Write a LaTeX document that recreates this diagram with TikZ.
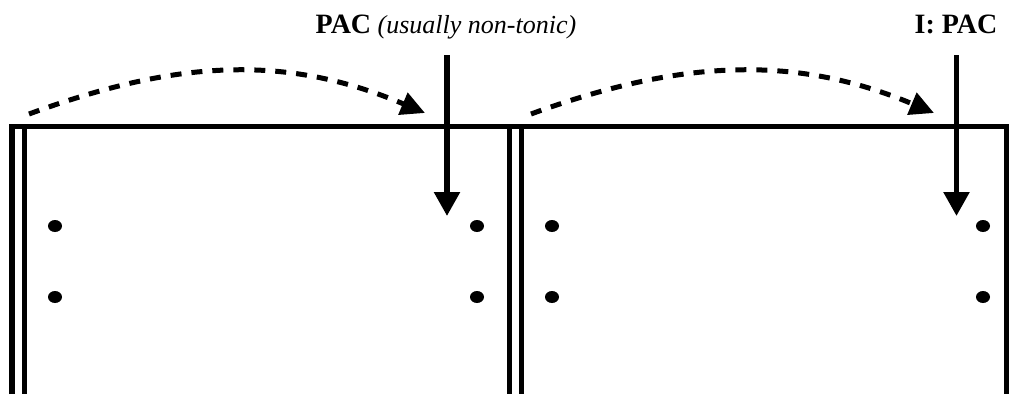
\documentclass[tikz,border=0pt]{standalone}
\usepackage{fontspec}
\setmainfont{Liberation Serif}
\usetikzlibrary{arrows.meta,shapes.geometric}
\tikzset{
  bar/.style={line width=5.3pt, line join=miter},
  downarrow/.style={line width=5.5pt, -{Triangle[width=25pt,length=24pt]}},
  dasharrow/.style={line width=5pt, dash pattern=on 11pt off 10pt, -{Triangle[width=23pt,length=24pt]}},
  spot/.style={ellipse, fill=black, minimum width=14pt, minimum height=12pt, inner sep=0pt},
  lbl/.style={inner sep=0pt, anchor=base}
}
\begin{document}
\begin{tikzpicture}[x=1pt,y=-1pt]
\useasboundingbox (0,0) rectangle (1010,394);
% frame
\draw[bar] (12,394) -- (12,126.5) -- (1006.5,126.5) -- (1006.5,394);
\draw[bar] (24.7,126.5) -- (24.7,394);
\draw[bar] (509.5,126.5) -- (509.5,394);
\draw[bar] (521.7,126.5) -- (521.7,394);
% dots
\node[spot] (d1) at (55,226) {};
\node[spot] (d2) at (55,297) {};
\node[spot] (d3) at (477,226) {};
\node[spot] (d4) at (477,297) {};
\node[spot] (d5) at (552,226) {};
\node[spot] (d6) at (552,297) {};
\node[spot] (d7) at (983,226) {};
\node[spot] (d8) at (983,297) {};
% labels
\node[lbl] (t1) at (446,33) {\fontsize{28}{30}\selectfont\bfseries PAC\fontsize{26}{30}\selectfont\mdseries\ \itshape(usually non-tonic)};
\node[lbl] (t2) at (956,33) {\fontsize{28}{30}\selectfont\bfseries I: PAC};
% down arrows
\coordinate (a1s) at (447,55);
\coordinate (a1e) at (447,216);
\coordinate (a2s) at (956.5,55);
\coordinate (a2e) at (956.5,216);
\draw[downarrow] (a1s) -- (a1e);
\draw[downarrow] (a2s) -- (a2e);
% dashed arcs
\coordinate (c1s) at (29,114);
\coordinate (c1e) at (425,113);
\coordinate (c2s) at (531,114);
\coordinate (c2e) at (934,113);
\draw[dasharrow] (c1s) .. controls (174,61) and (283,53) .. (c1e);
\draw[dasharrow] (c2s) .. controls (676,61) and (792,53) .. (c2e);
\end{tikzpicture}
\end{document}
